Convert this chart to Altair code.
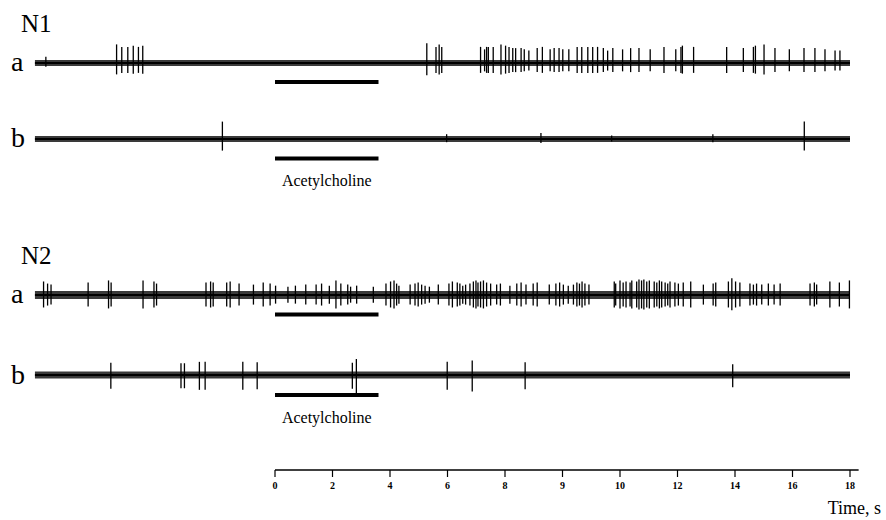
import altair as alt
import pandas as pd

# ---------------- data (time in axis units; ticks every 2 units) ----------------
n1a_t = [-7.97, -5.51, -5.33, -5.12, -4.93, -4.75, -4.60, 5.28, 5.60, 5.71, 5.80,
         7.15, 7.29, 7.36, 7.42, 7.59, 7.86, 8.02, 8.14, 8.27, 8.37, 8.56, 8.67, 8.83,
         9.12, 9.30, 9.57, 9.71, 9.88, 10.01, 10.22, 10.51, 10.67, 10.88, 11.05, 11.22,
         11.42, 11.57, 11.75, 12.09, 12.37, 12.66, 13.05, 13.53, 13.94, 14.12, 14.17,
         14.56, 15.71, 16.29, 16.64, 16.71, 17.01, 17.39, 17.89, 18.40, 18.78, 19.13,
         19.48, 19.65]
n1a_h = [10, 30, 26, 26, 28, 26, 28, 32, 26, 30, 26, 26, 22, 26, 26, 26, 30, 28, 26, 24,
         24, 24, 22, 20, 24, 26, 22, 24, 24, 22, 22, 26, 26, 26, 26, 26, 24, 20, 24, 22,
         24, 24, 22, 26, 22, 26, 28, 26, 26, 24, 26, 28, 30, 24, 22, 24, 24, 22, 20, 20]

n1b_t = [-1.83, 5.97, 9.25, 11.71, 15.23, 18.41]
n1b_h = [29, 8, 10, 6, 8, 29]

n2a_t = [-8.05, -7.91, -7.79, -6.50, -5.79, -5.70, -4.59, -4.21, -4.12, -2.40, -2.24,
         -2.15, -1.68, -1.56, -1.25, -0.75, -0.41, -0.17, 0.02, 0.45, 0.71, 1.07, 1.43,
         1.62, 1.89, 2.12, 2.29, 2.53, 2.63, 2.84, 3.42, 3.86, 4.02, 4.14, 4.23, 4.31,
         4.70, 4.87, 4.98, 5.10, 5.22, 5.37, 5.68, 6.05, 6.17, 6.34, 6.43, 6.53, 6.63,
         6.78, 6.90, 6.99, 7.06, 7.15, 7.25, 7.36, 7.50, 7.71, 7.84, 8.17, 8.41, 8.56,
         8.73, 8.98, 9.12, 9.54, 9.77, 9.90, 10.03, 10.20, 10.38, 10.50, 10.59, 10.68,
         10.78, 10.92, 11.80, 11.85, 12.00, 12.11, 12.21, 12.35, 12.41, 12.58, 12.66,
         12.75, 12.83, 12.93, 13.02, 13.19, 13.28, 13.37, 13.45, 13.57, 13.66, 13.74,
         13.91, 14.03, 14.20, 14.46, 14.90, 15.24, 15.33, 15.77, 15.89, 16.02, 16.17,
         16.52, 16.64, 16.75, 16.93, 17.16, 17.36, 17.57, 18.61, 18.76, 18.84, 19.30,
         19.63, 19.98]
n2a_h = [26, 22, 20, 24, 28, 24, 28, 26, 22, 24, 26, 24, 24, 26, 22, 20, 24, 22, 18, 16,
         18, 20, 20, 22, 18, 28, 22, 20, 16, 18, 16, 22, 26, 28, 22, 18, 20, 22, 24, 20,
         18, 16, 20, 22, 26, 24, 22, 18, 20, 22, 26, 28, 24, 26, 28, 24, 22, 20, 22, 18,
         22, 24, 20, 22, 24, 20, 22, 24, 20, 18, 20, 24, 22, 26, 22, 20, 26, 22, 28, 24,
         26, 24, 28, 26, 30, 28, 30, 26, 28, 26, 24, 28, 26, 24, 22, 26, 24, 22, 24, 26,
         20, 22, 24, 26, 32, 26, 24, 22, 20, 22, 20, 22, 20, 22, 22, 24, 20, 26, 24, 28]

n2b_t = [-5.71, -3.27, -3.15, -2.63, -2.43, -1.12, -0.62, 2.69, 2.83, 5.99, 6.86, 8.70, 15.92]
n2b_h = [26, 25, 25, 28, 28, 28, 27, 26, 34, 28, 31, 27, 23]

trace_start, trace_end = -8.35, 20.0
ach_start, ach_end = 0.0, 3.6
tick_values = [0, 2, 4, 6, 8, 10, 12, 14, 16, 18, 20]
tick_labels = ["0", "2", "4", "6", "8", "9", "10", "12", "14", "16", "18"]
axis_end = 20.3

# ---------------- layout ----------------
W, H = 886, 520
X0, PXU = 275.0, 28.75          # pixel of time 0, pixels per unit
xs = alt.Scale(domain=[-X0 / PXU, (W - X0) / PXU], nice=False, zero=False)
ys = alt.Scale(domain=[0, H], reverse=True, nice=False, zero=False)

rows = [
    # name, times, heights, baseline, band width, up-fraction, ACh bar y
    ("N1a", n1a_t, n1a_h, 63, 6, 0.62, 82),
    ("N1b", n1b_t, n1b_h, 139, 6, 0.60, 158.5),
    ("N2a", n2a_t, n2a_h, 295, 8, 0.52, 314.5),
    ("N2b", n2b_t, n2b_h, 375, 7, 0.47, 395),
]

spk, band, bars = [], [], []
for name, ts, hs, base, bw, up, bar in rows:
    for t, h in zip(ts, hs):
        spk.append({"row": name, "t": t, "y1": base - up * h, "y2": base + (1 - up) * h})
    band.append({"row": name, "x1": trace_start, "x2": trace_end, "y": base, "sw": bw})
    bars.append({"row": name, "x1": ach_start, "x2": ach_end, "y": bar})

spk_df = pd.DataFrame(spk)
band_df = pd.DataFrame(band)
bar_df = pd.DataFrame(bars)

band_layer = alt.Chart(band_df).mark_rule(color="#3a3a3a").encode(
    x=alt.X("x1:Q", scale=xs, axis=None), x2="x2:Q",
    y=alt.Y("y:Q", scale=ys, axis=None),
    size=alt.Size("sw:Q", scale=None, legend=None))
core_layer = alt.Chart(band_df).mark_rule(color="#000000", strokeWidth=2).encode(
    x=alt.X("x1:Q", scale=xs, axis=None), x2="x2:Q",
    y=alt.Y("y:Q", scale=ys, axis=None))
spike_layer = alt.Chart(spk_df).mark_rule(color="#000000", strokeWidth=1.3).encode(
    x=alt.X("t:Q", scale=xs, axis=None),
    y=alt.Y("y1:Q", scale=ys, axis=None), y2="y2:Q")
bar_layer = alt.Chart(bar_df).mark_rule(color="#000000", strokeWidth=4).encode(
    x=alt.X("x1:Q", scale=xs, axis=None), x2="x2:Q",
    y=alt.Y("y:Q", scale=ys, axis=None))

# ACh labels under the b-row bars
ach_lab = pd.DataFrame({"x": [(ach_start + ach_end) / 2] * 2, "y": [181, 418],
                        "label": ["Acetylcholine", "Acetylcholine"]})
ach_text = alt.Chart(ach_lab).mark_text(font="Liberation Serif", fontSize=16,
                                        color="#000", align="center", baseline="middle").encode(
    x=alt.X("x:Q", scale=xs, axis=None), y=alt.Y("y:Q", scale=ys, axis=None), text="label:N")

# time axis (drawn)
AXY = 470
axis_df = pd.DataFrame({"x1": [0], "x2": [axis_end], "y": [AXY]})
axis_line = alt.Chart(axis_df).mark_rule(color="#000", strokeWidth=1.3).encode(
    x=alt.X("x1:Q", scale=xs, axis=None), x2="x2:Q", y=alt.Y("y:Q", scale=ys, axis=None))
tick_df = pd.DataFrame({"v": tick_values, "lab": tick_labels,
                        "y1": [AXY] * len(tick_values), "y2": [AXY + 7] * len(tick_values),
                        "ly": [AXY + 16] * len(tick_values)})
tick_marks = alt.Chart(tick_df).mark_rule(color="#000", strokeWidth=1.2).encode(
    x=alt.X("v:Q", scale=xs, axis=None), y=alt.Y("y1:Q", scale=ys, axis=None), y2="y2:Q")
tick_text = alt.Chart(tick_df).mark_text(font="Liberation Serif", fontSize=10, fontWeight="bold",
                                         color="#000", baseline="middle").encode(
    x=alt.X("v:Q", scale=xs, axis=None), y=alt.Y("ly:Q", scale=ys, axis=None), text="lab:N")

# free text labels (pixel placed)
free = pd.DataFrame({
    "label": ["N1", "a", "b", "N2", "a", "b", "Time, s"],
    "px": [21, 11, 11, 21, 11, 11, 881],
    "py": [32, 71, 147, 264, 303, 384, 514],
    "size": [25, 28, 28, 25, 28, 28, 18],
    "al": ["left", "left", "left", "left", "left", "left", "right"],
})
text_layers = []
for _, r in free.iterrows():
    text_layers.append(
        alt.Chart(pd.DataFrame({"label": [r["label"]]})).mark_text(
            font="Liberation Serif", fontSize=int(r["size"]), color="#000",
            align=r["al"], baseline="alphabetic").encode(
            x=alt.value(float(r["px"])), y=alt.value(float(r["py"])), text="label:N"))

chart = alt.layer(band_layer, core_layer, spike_layer, bar_layer, ach_text,
                  axis_line, tick_marks, tick_text, *text_layers).properties(
    width=W, height=H, autosize=alt.AutoSizeParams(type="none"), padding=0,
    background="#ffffff").configure_view(stroke=None)

chart.save("out.html", embed_options={"renderer": "svg", "actions": False})
